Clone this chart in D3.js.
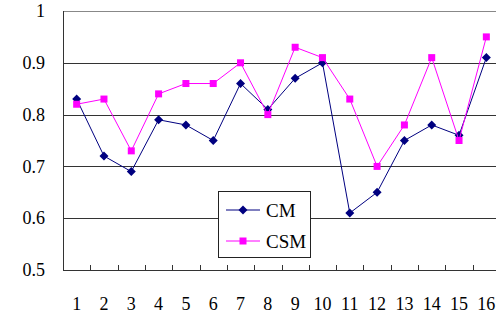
<!DOCTYPE html>
<html>
<head>
<meta charset="utf-8">
<script src="https://cdn.jsdelivr.net/npm/d3@7"></script>
<style>
  body { margin: 0; background: #fff; }
  svg { display: block; }
  text { font-family: "Liberation Serif", "DejaVu Serif", serif; fill: #000; }
</style>
</head>
<body>
<script>
// data
const categories = ["1","2","3","4","5","6","7","8","9","10","11","12","13","14","15","16"];
const cmValues  = [0.83,0.72,0.69,0.79,0.78,0.75,0.86,0.81,0.87,0.90,0.61,0.65,0.75,0.78,0.76,0.91];
const csmValues = [0.82,0.83,0.73,0.84,0.86,0.86,0.90,0.80,0.93,0.91,0.83,0.70,0.78,0.91,0.75,0.95];
const yTicks = [0.5,0.6,0.7,0.8,0.9,1];

const margin = { top: 11, bottom: 48, left: 63, right: -4 };
const W = 496, H = 318;
const width = W - margin.left - margin.right;
const height = H - margin.top - margin.bottom;

const svg = d3.select("body").append("svg")
  .attr("width", W).attr("height", H)
  .append("g")
  .attr("transform", `translate(${margin.left},${margin.top})`);

const x = d3.scaleBand().domain(categories).range([0, width]);
const y = d3.scaleLinear().domain([0.5, 1]).range([height, 0]);

// gridlines
svg.append("g")
  .selectAll("line")
  .data(yTicks.slice(1))
  .join("line")
  .attr("x1", 0).attr("x2", width)
  .attr("y1", d => Math.round(y(d)) + 0.5).attr("y2", d => Math.round(y(d)) + 0.5)
  .attr("stroke", d => d === 1 ? "#888" : "#333")
  .attr("stroke-width", 1);

// y axis
const yAxis = svg.append("g")
  .call(d3.axisLeft(y).tickValues(yTicks).tickSize(0).tickPadding(18)
    .tickFormat(d => d === 1 ? "1" : d3.format(".1f")(d)));
yAxis.select(".domain").attr("stroke", "#333").attr("d", `M0.5,0V${height}`);
yAxis.selectAll("text").attr("font-size", 18).attr("font-family", "Liberation Serif");

// x axis, ticks pointing inward at category boundaries
const xAxis = svg.append("g").attr("transform", `translate(0,${height})`);
xAxis.append("line").attr("x1", 0).attr("x2", width).attr("y1", 0.5).attr("y2", 0.5).attr("stroke", "#333");
xAxis.selectAll(".tk")
  .data(categories.slice(1))
  .join("line")
  .attr("class", "tk")
  .attr("x1", d => Math.round(x(d)) + 0.5).attr("x2", d => Math.round(x(d)) + 0.5)
  .attr("y1", 0).attr("y2", -5)
  .attr("stroke", "#333");
xAxis.selectAll("text")
  .data(categories)
  .join("text")
  .attr("x", d => x(d) + x.bandwidth() / 2)
  .attr("y", 40)
  .attr("text-anchor", "middle")
  .attr("font-size", 18)
  .text(d => d);

const line = d3.line()
  .x((d, i) => x(categories[i]) + x.bandwidth() / 2)
  .y(d => y(d));

// CM series (navy diamonds)
svg.append("path").datum(cmValues)
  .attr("d", line).attr("fill", "none").attr("stroke", "#000080").attr("stroke-width", 1);
svg.append("g").selectAll("path")
  .data(cmValues)
  .join("path")
  .attr("transform", (d, i) => `translate(${x(categories[i]) + x.bandwidth() / 2},${y(d)})`)
  .attr("d", "M0,-4.5L4.5,0L0,4.5L-4.5,0Z")
  .attr("fill", "#000080");

// CSM series (magenta squares)
svg.append("path").datum(csmValues)
  .attr("d", line).attr("fill", "none").attr("stroke", "#ff00ff").attr("stroke-width", 1);
svg.append("g").selectAll("rect")
  .data(csmValues)
  .join("rect")
  .attr("x", (d, i) => x(categories[i]) + x.bandwidth() / 2 - 3.5)
  .attr("y", d => y(d) - 3.5)
  .attr("width", 7).attr("height", 7)
  .attr("fill", "#ff00ff");

// legend
const lg = svg.append("g").attr("transform", `translate(${218 - margin.left},${191 - margin.top})`);
lg.append("rect").attr("x", 0.5).attr("y", 0.5).attr("width", 92).attr("height", 66)
  .attr("fill", "#fff").attr("stroke", "#222");
lg.append("line").attr("x1", 8).attr("x2", 42).attr("y1", 19).attr("y2", 19).attr("stroke", "#000080");
lg.append("path").attr("transform", "translate(25,19)").attr("d", "M0,-4.5L4.5,0L0,4.5L-4.5,0Z").attr("fill", "#000080");
lg.append("text").attr("x", 48).attr("y", 26).attr("font-size", 19).text("CM");
lg.append("line").attr("x1", 8).attr("x2", 42).attr("y1", 50).attr("y2", 50).attr("stroke", "#ff00ff");
lg.append("rect").attr("x", 21.5).attr("y", 46.5).attr("width", 7).attr("height", 7).attr("fill", "#ff00ff");
lg.append("text").attr("x", 48).attr("y", 57).attr("font-size", 19).text("CSM");
</script>
</body>
</html>
